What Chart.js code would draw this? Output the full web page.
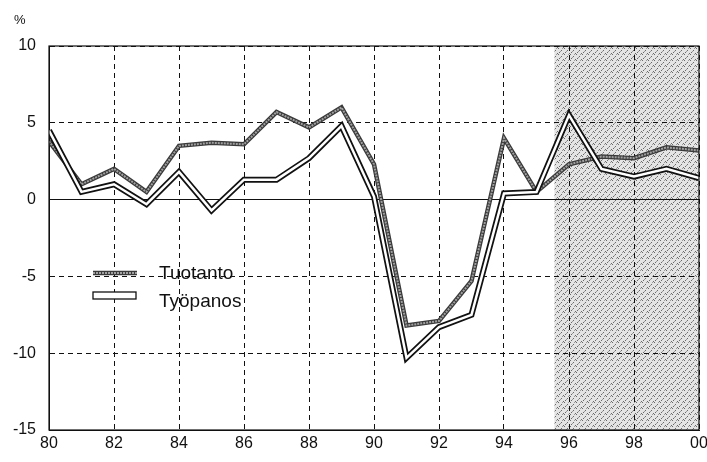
<!DOCTYPE html>
<html>
<head>
<meta charset="utf-8">
<script src="https://cdn.jsdelivr.net/npm/chart.js@4/dist/chart.umd.min.js"></script>
<style>
  html, body { margin: 0; padding: 0; background: #fff; }
  #wrap { width: 707px; height: 462px; }
</style>
</head>
<body>
<div id="wrap"><canvas id="chart" width="707" height="462"></canvas></div>
<script>
// years 80..00 (00 plotted as 100)
const years = [80, 81, 82, 83, 84, 85, 86, 87, 88, 89, 90, 91, 92, 93, 94, 95, 96, 97, 98, 99, 100];
const tuotanto = [3.8, 1.0, 2.0, 0.5, 3.5, 3.7, 3.6, 5.7, 4.7, 6.0, 2.3, -8.2, -7.9, -5.3, 4.0, 0.5, 2.3, 2.8, 2.7, 3.4, 3.2];
const tyopanos = [4.5, 0.5, 1.0, -0.3, 1.8, -0.7, 1.3, 1.3, 2.7, 4.8, 0.2, -10.3, -8.3, -7.5, 0.4, 0.5, 5.5, 2.0, 1.5, 2.0, 1.4];
const yTicks = [-15, -10, -5, 0, 5, 10];
const forecastStart = 95.55;

const pts = (arr) => years.map((x, i) => ({ x: x, y: arr[i] }));
const font = { family: "'Liberation Sans', Arial, sans-serif", size: 16 };

// dotted pattern for the forecast area
function makePattern(ctx) {
  const c = document.createElement("canvas");
  c.width = 6; c.height = 6;
  const p = c.getContext("2d");
  p.fillStyle = "#e4e4e4";
  p.fillRect(0, 0, 6, 6);
  p.fillStyle = "#6a6a6a";
  p.fillRect(0, 0, 1, 1);
  p.fillRect(3, 2, 1, 1);
  p.fillRect(1, 4, 1, 1);
  p.fillRect(5, 5, 1, 1);
  p.fillStyle = "#9a9a9a";
  p.fillRect(4, 0, 1, 1);
  p.fillRect(2, 3, 1, 1);
  return ctx.createPattern(c, "repeat");
}

const extras = {
  id: "extras",
  beforeDraw(chart) {
    const { ctx, chartArea, scales } = chart;
    const x0 = scales.x.getPixelForValue(forecastStart);
    ctx.save();
    ctx.fillStyle = makePattern(ctx);
    ctx.fillRect(x0, chartArea.top, chartArea.right - x0, chartArea.bottom - chartArea.top);
    ctx.restore();
  },
  afterDraw(chart) {
    const { ctx, chartArea } = chart;
    ctx.save();
    // frame
    ctx.strokeStyle = "#111";
    ctx.lineWidth = 1.2;
    ctx.strokeRect(chartArea.left, chartArea.top, chartArea.right - chartArea.left, chartArea.bottom - chartArea.top);
    // unit
    ctx.fillStyle = "#111";
    ctx.font = "13px 'Liberation Sans', Arial, sans-serif";
    ctx.textBaseline = "middle";
    ctx.fillText("%", 14, 20);

    // legend
    ctx.lineCap = "butt";
    ctx.strokeStyle = "#3a3a3a";
    ctx.lineWidth = 4.5;
    ctx.beginPath(); ctx.moveTo(93, 273); ctx.lineTo(137, 273); ctx.stroke();
    ctx.strokeStyle = "#a0a0a0";
    ctx.lineWidth = 2;
    ctx.setLineDash([2, 1]);
    ctx.beginPath(); ctx.moveTo(93, 273); ctx.lineTo(137, 273); ctx.stroke();
    ctx.setLineDash([]);
    ctx.fillStyle = "#fff";
    ctx.fillRect(93, 292, 43, 7);
    ctx.strokeStyle = "#111";
    ctx.lineWidth = 1.3;
    ctx.strokeRect(93, 292, 43, 7);
    ctx.fillStyle = "#111";
    ctx.font = "19px 'Liberation Sans', Arial, sans-serif";
    ctx.fillText("Tuotanto", 159, 274);
    ctx.fillText("Työpanos", 159, 302);
    ctx.restore();
  }
};

new Chart(document.getElementById("chart"), {
  type: "line",
  data: {
    datasets: [
      { label: "Työpanos", data: pts(tyopanos), borderColor: "#fff", borderWidth: 2.5, order: 0 },
      { label: "Työpanos", data: pts(tyopanos), borderColor: "#111", borderWidth: 6, order: 1 },
      { label: "Tuotanto", data: pts(tuotanto), borderColor: "#a0a0a0", borderWidth: 2, borderDash: [2, 1], order: 2 },
      { label: "Tuotanto", data: pts(tuotanto), borderColor: "#3a3a3a", borderWidth: 4.5, order: 3 }
    ]
  },
  options: {
    responsive: false,
    animation: false,
    events: [],
    elements: { point: { radius: 0 }, line: { tension: 0, borderJoinStyle: "miter" } },
    layout: { padding: { top: 46, right: 8, left: 0, bottom: 0 } },
    plugins: { legend: { display: false }, tooltip: { enabled: false } },
    scales: {
      x: {
        type: "linear",
        min: 80,
        max: 100,
        afterFit: (s) => { s.height = 32; s.paddingLeft = 0; s.paddingRight = 0; },
        afterBuildTicks: (s) => { s.ticks = years.filter((y) => y % 2 === 0).map((v) => ({ value: v })); },
        ticks: {
          color: "#111",
          font: font,
          padding: 4,
          maxRotation: 0,
          callback: (v) => (v === 100 ? "00" : String(v))
        },
        grid: { color: "#111", lineWidth: 1, drawTicks: false },
        border: { display: true, color: "#111", dash: [5, 4] }
      },
      y: {
        min: -15,
        max: 10,
        afterFit: (s) => { s.width = 49; s.paddingTop = 0; s.paddingBottom = 0; },
        afterBuildTicks: (s) => { s.ticks = yTicks.map((v) => ({ value: v })); },
        ticks: { color: "#111", font: font, padding: 13 },
        grid: { color: "#111", lineWidth: 1, drawTicks: false },
        border: {
          display: true,
          color: "#111",
          dash: (c) => (c.tick && c.tick.value === 0 ? [] : [5, 4])
        }
      }
    }
  },
  plugins: [extras]
});
</script>
</body>
</html>
